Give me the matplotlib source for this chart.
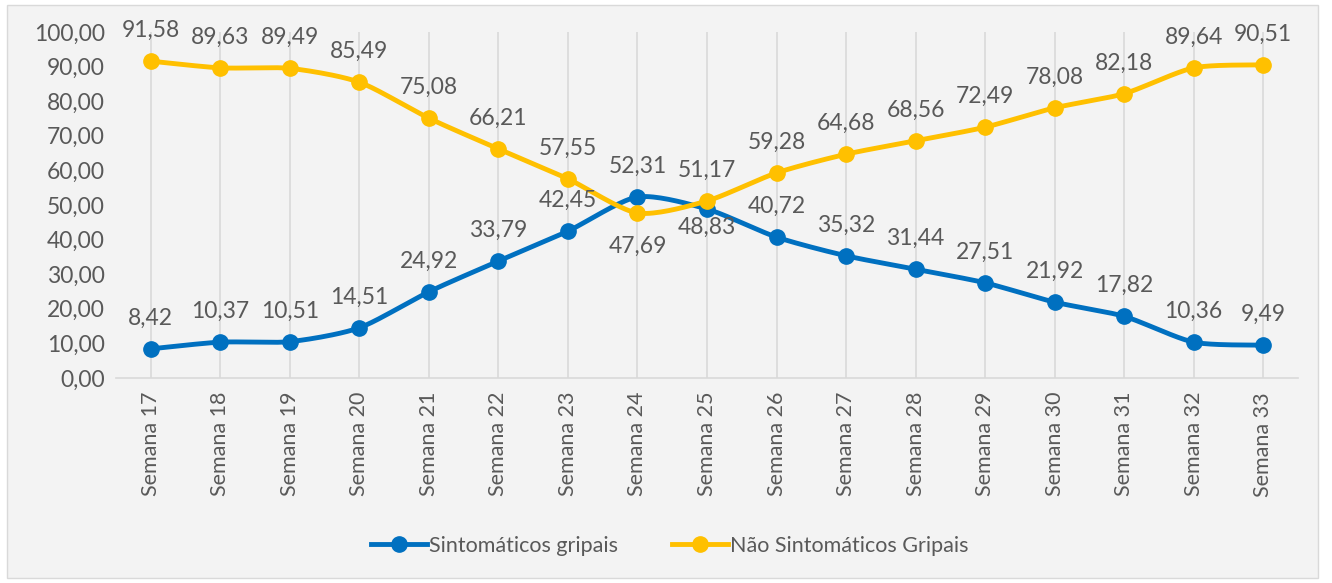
import numpy as np
import matplotlib
matplotlib.use('Agg')
import matplotlib.pyplot as plt
from matplotlib.patches import Rectangle
from matplotlib.lines import Line2D

plt.rcParams['font.family'] = ['Lato', 'DejaVu Sans']

weeks = ['Semana %d' % w for w in range(17, 34)]
sintomaticos = [8.42, 10.37, 10.51, 14.51, 24.92, 33.79, 42.45, 52.31, 48.83,
                40.72, 35.32, 31.44, 27.51, 21.92, 17.82, 10.36, 9.49]
nao_sintomaticos = [91.58, 89.63, 89.49, 85.49, 75.08, 66.21, 57.55, 47.69, 51.17,
                    59.28, 64.68, 68.56, 72.49, 78.08, 82.18, 89.64, 90.51]
y_ticks = [0, 10, 20, 30, 40, 50, 60, 70, 80, 90, 100]

BLUE = '#0070C0'
YELLOW = '#FFC000'
TEXT = '#595959'
BG = '#F3F3F3'


def smooth(x, y, n=20):
    # catmull-rom style curve through the points (like Excel's smoothed line)
    x = np.asarray(x, float)
    y = np.asarray(y, float)
    px = np.concatenate([[x[0]], x, [x[-1]]])
    py = np.concatenate([[y[0]], y, [y[-1]]])
    xs, ys = [], []
    t = np.linspace(0, 1, n, endpoint=False)
    for i in range(1, len(px) - 2):
        for p, out in ((px, xs), (py, ys)):
            p0, p1, p2, p3 = p[i - 1], p[i], p[i + 1], p[i + 2]
            m1 = (p2 - p0) / 2 * 0.75
            m2 = (p3 - p1) / 2 * 0.75
            h00 = 2 * t**3 - 3 * t**2 + 1
            h10 = t**3 - 2 * t**2 + t
            h01 = -2 * t**3 + 3 * t**2
            h11 = t**3 - t**2
            out.extend(h00 * p1 + h10 * m1 + h01 * p2 + h11 * m2)
    xs.append(x[-1])
    ys.append(y[-1])
    return np.array(xs), np.array(ys)


fig = plt.figure(figsize=(13.32, 5.83), dpi=100, facecolor='white')
fig.patches.append(Rectangle((7 / 1332, 5 / 583), 1311 / 1332, 573 / 583,
                             transform=fig.transFigure, facecolor=BG,
                             edgecolor='#D9D9D9', linewidth=1, zorder=-5))
ax = fig.add_axes([116 / 1332, 1 - 378 / 583, 1182 / 1332, 346 / 583])
ax.set_facecolor('none')

x = np.arange(len(weeks))
for vals, col in ((sintomaticos, BLUE), (nao_sintomaticos, YELLOW)):
    sx, sy = smooth(x, vals)
    ax.plot(sx, sy, color=col, linewidth=3.5, solid_capstyle='round', zorder=3)
    ax.plot(x, vals, 'o', color=col, markersize=11, zorder=4)

ax.set_xlim(-0.5, len(weeks) - 0.5)
ax.set_ylim(0, 100)
ax.set_yticks(y_ticks)
ax.yaxis.set_major_formatter(plt.FuncFormatter(lambda v, p: ('%.2f' % v).replace('.', ',')))
ax.set_xticks(x)
ax.set_xticklabels(weeks, rotation=90)
ax.tick_params(axis='both', length=0, colors=TEXT)
ax.tick_params(axis='x', pad=10, labelsize=15.5)
ax.tick_params(axis='y', pad=8, labelsize=16.5)

for s in ('top', 'right', 'left'):
    ax.spines[s].set_visible(False)
ax.spines['bottom'].set_color('#D9D9D9')
ax.spines['bottom'].set_linewidth(1.2)
for xi in x:
    ax.axvline(xi, color='#D9D9D9', linewidth=1.2, zorder=1)


def fmt(v):
    return ('%.2f' % v).replace('.', ',')


# data labels (offset in points; negative = below)
blue_off = [22] * len(x)
yellow_off = [22] * len(x)
yellow_off[7] = -24
blue_off[8] = -13
for i in x:
    ax.annotate(fmt(sintomaticos[i]), (i, sintomaticos[i]), xytext=(0, blue_off[i]),
                textcoords='offset points', ha='center', va='center',
                fontsize=16.5, color=TEXT, zorder=5)
    ax.annotate(fmt(nao_sintomaticos[i]), (i, nao_sintomaticos[i]), xytext=(0, yellow_off[i]),
                textcoords='offset points', ha='center', va='center',
                fontsize=16.5, color=TEXT, zorder=5)

handles = [Line2D([], [], color=BLUE, linewidth=3.5, marker='o', markersize=11),
           Line2D([], [], color=YELLOW, linewidth=3.5, marker='o', markersize=11)]
fig.legend(handles, ['Sintomáticos gripais', 'Não Sintomáticos Gripais'],
           loc='center', bbox_to_anchor=(670 / 1332, 1 - 546 / 583), ncol=2,
           frameon=False, fontsize=15.5, labelcolor=TEXT, handlelength=2.6,
           handletextpad=0.1, columnspacing=2.5)

fig.savefig('out.png', dpi=100, facecolor='white')
